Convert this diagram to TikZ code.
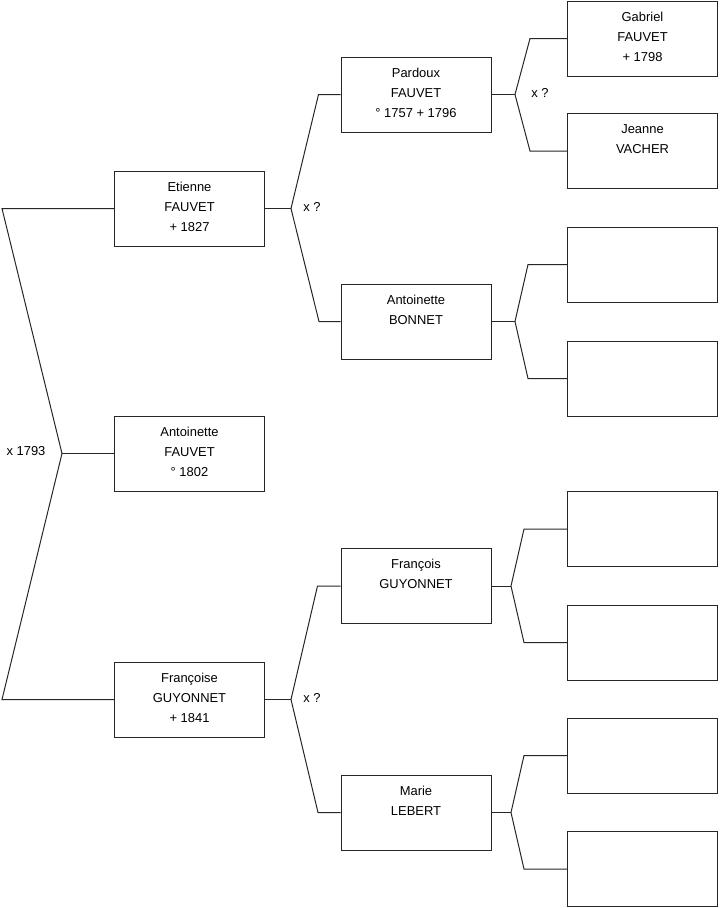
\documentclass[tikz,border=0pt]{standalone}
\usepackage{fontspec}
\setmainfont{Liberation Sans}
\begin{document}
\begin{tikzpicture}[x=0.75pt,y=-0.75pt,
  box/.style={draw=black!85, line width=0.75pt, minimum width=112.5pt, minimum height=56.25pt, inner sep=0pt},
  txt/.style={anchor=north, align=center, font=\fontsize{9.7}{15}\selectfont, inner sep=0pt},
  lbl/.style={font=\fontsize{9.7}{11}\selectfont, inner sep=0pt},
  conn/.style={draw=black!85, line width=0.75pt}]
\useasboundingbox (0,0) rectangle (719,908);
% level 1
\node[box] (e)  at (189.5,208.5) {};
\node[box] (af) at (189.5,453.5) {};
\node[box] (fg) at (189.5,699.5) {};
% level 2
\node[box] (p)  at (416,94.5) {};
\node[box] (ab) at (416,321.5) {};
\node[box] (fr) at (416,586) {};
\node[box] (m)  at (416,812.5) {};
% level 3
\node[box] (g)  at (642.5,38.5) {};
\node[box] (j)  at (642.5,151) {};
\node[box] (b1) at (642.5,264.5) {};
\node[box] (b2) at (642.5,378.5) {};
\node[box] (b3) at (642.5,529) {};
\node[box] (b4) at (642.5,642.5) {};
\node[box] (b5) at (642.5,755.5) {};
\node[box] (b6) at (642.5,869) {};
% texts
\node[txt] (te)  at ([yshift=-8.5pt]e.north)  {Etienne\\FAUVET\\+ 1827};
\node[txt] (taf) at ([yshift=-8.5pt]af.north) {Antoinette\\FAUVET\\° 1802};
\node[txt] (tfg) at ([yshift=-8.5pt]fg.north) {Françoise\\GUYONNET\\+ 1841};
\node[txt] (tp)  at ([yshift=-8.5pt]p.north)  {Pardoux\\FAUVET\\° 1757 + 1796};
\node[txt] (tab) at ([yshift=-8.5pt]ab.north) {Antoinette\\BONNET};
\node[txt] (tfr) at ([yshift=-8.5pt]fr.north) {François\\GUYONNET};
\node[txt] (tm)  at ([yshift=-8.5pt]m.north)  {Marie\\LEBERT};
\node[txt] (tg)  at ([yshift=-8.5pt]g.north)  {Gabriel\\FAUVET\\+ 1798};
\node[txt] (tj)  at ([yshift=-8.5pt]j.north)  {Jeanne\\VACHER};
% fork points
\coordinate (k1) at (2,208.5);
\coordinate (k0) at (62,453.5);
\coordinate (k2) at (2,699.5);
\coordinate (fe) at (291,208.5);
\coordinate (ff) at (291,699.5);
\coordinate (fp) at (515,94.5);
\coordinate (fab) at (515,321.5);
\coordinate (ffr) at (511,586);
\coordinate (fm) at (511,812.5);
% connectors
\draw[conn] (e.west) -- (k1) -- (k0) -- (k2) -- (fg.west);
\draw[conn] (k0) -- (af.west);
\draw[conn] (e.east) -- (fe);
\draw[conn] (p.west) -- ++(-22,0) -- (fe) -- (319,321.5) -- (ab.west);
\draw[conn] (fg.east) -- (ff);
\draw[conn] (fr.west) -- ++(-23,0) -- (ff) -- (318,812.5) -- (m.west);
\draw[conn] (p.east) -- (fp);
\draw[conn] (g.west) -- ++(-37,0) -- (fp) -- (530,151) -- (j.west);
\draw[conn] (ab.east) -- (fab);
\draw[conn] (b1.west) -- ++(-39,0) -- (fab) -- (528,378.5) -- (b2.west);
\draw[conn] (fr.east) -- (ffr);
\draw[conn] (b3.west) -- ++(-43,0) -- (ffr) -- (524,642.5) -- (b4.west);
\draw[conn] (m.east) -- (fm);
\draw[conn] (b5.west) -- ++(-43,0) -- (fm) -- (524,869) -- (b6.west);
% labels
\node[lbl] (l0) at (26,451.5) {x 1793};
\node[lbl] (l1) at (312,207) {x ?};
\node[lbl] (l2) at (540,92.5) {x ?};
\node[lbl] (l3) at (312,697.5) {x ?};
\end{tikzpicture}
\end{document}
